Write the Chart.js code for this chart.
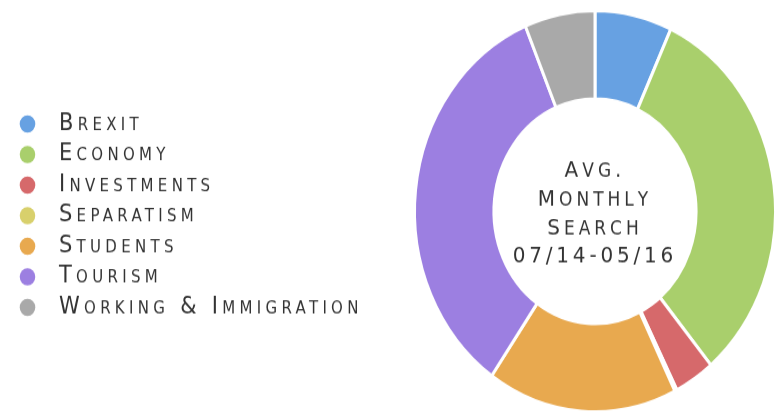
<!DOCTYPE html>
<html>
<head>
<meta charset="utf-8">
<script src="https://cdn.jsdelivr.net/npm/chart.js@4.4.0/dist/chart.umd.min.js"></script>
<style>
  html, body { margin: 0; padding: 0; background: #fff; width: 780px; height: 418px; overflow: hidden; }
  /* the source picture is stretched vertically, so the chart is drawn flat and scaled */
  #wrap { width: 780px; height: 376px; transform: scale(1, 1.1117); transform-origin: 0 0; }
</style>
</head>
<body>
<div id="wrap"><canvas id="topicChart"></canvas></div>
<script>
// avg monthly search share per topic, 07/14 - 05/16
const topics = ["Brexit", "Economy", "Investments", "Separatism", "Students", "Tourism", "Working & Immigration"];
const shares = [6.9, 32.0, 3.6, 0.2, 17.0, 34.0, 6.3];
const colors = ["#67a1e2", "#a9cf6c", "#d6696b", "#d8d06c", "#e8a94f", "#9c7fe1", "#a9a9a9"];
const centerLines = ["Avg.", "Monthly", "Search", "07/14-05/16"];

const FONT = "'DejaVu Sans'";

// draws a line in small caps: capitals big, lower case as smaller capitals
function smallCaps(ctx, text, cx, y, big, small, spacing) {
  const parts = [...text].map((ch) => {
    const low = ch !== ch.toUpperCase();
    ctx.font = (low ? small : big) + "px " + FONT;
    const c = low ? ch.toUpperCase() : ch;
    return { c, size: low ? small : big, w: ctx.measureText(c).width };
  });
  const total = parts.reduce((s, p) => s + p.w, 0) + spacing * (parts.length - 1);
  let x = cx - total / 2;
  parts.forEach((p) => {
    ctx.font = p.size + "px " + FONT;
    ctx.fillText(p.c, x, y);
    x += p.w + spacing;
  });
}

// legend takes a fixed width so the ring sits on the right
const legendWidth = {
  id: "legendWidth",
  beforeInit(chart) {
    const fit = chart.legend.fit;
    chart.legend.fit = function () {
      fit.call(this);
      this.width = 402;
    };
  },
  afterLayout(chart) {
    // legend block sits a bit lower than the ring centre
    chart.legend.top += 4;
    chart.legend.bottom += 4;
  },
  beforeDraw(chart) {
    chart.ctx.letterSpacing = "4.3px";
  }
};

// text in the hole
const centerText = {
  id: "centerText",
  afterDraw(chart) {
    const { ctx, chartArea } = chart;
    const cx = (chartArea.left + chartArea.right) / 2;
    const cy = (chartArea.top + chartArea.bottom) / 2;
    ctx.save();
    ctx.letterSpacing = "0px";
    ctx.fillStyle = "#333";
    ctx.textAlign = "left";
    ctx.textBaseline = "alphabetic";
    centerLines.forEach((line, i) => {
      const y = cy - 38.5 + i * 25.8 + 7.5;
      if (i < 3) smallCaps(ctx, line, cx - 2, y, 20, 17, 4);
      else smallCaps(ctx, line, cx - 2, y, 20, 17, 3.8);
    });
    ctx.restore();
  }
};

new Chart(document.getElementById("topicChart"), {
  type: "doughnut",
  data: {
    labels: topics,
    datasets: [{
      data: shares,
      backgroundColor: colors,
      borderColor: "#fff",
      borderWidth: 3
    }]
  },
  options: {
    responsive: true,
    maintainAspectRatio: false,
    animation: false,
    cutout: "56%",
    layout: { padding: { left: 11, right: 3, top: 8, bottom: 4 } },
    plugins: {
      tooltip: { enabled: false },
      legend: {
        position: "left",
        labels: {
          usePointStyle: true,
          pointStyle: "circle",
          boxWidth: 20,
          boxHeight: 11,
          padding: 6.5,
          color: "#333",
          font: { family: FONT, size: 21, weight: "small-caps" },
          generateLabels(chart) {
            return Chart.overrides.doughnut.plugins.legend.labels.generateLabels(chart)
              .map((l) => ({ ...l, text: " " + l.text, strokeStyle: l.fillStyle, lineWidth: 0 }));
          }
        }
      }
    }
  },
  plugins: [legendWidth, centerText]
});
</script>
</body>
</html>
